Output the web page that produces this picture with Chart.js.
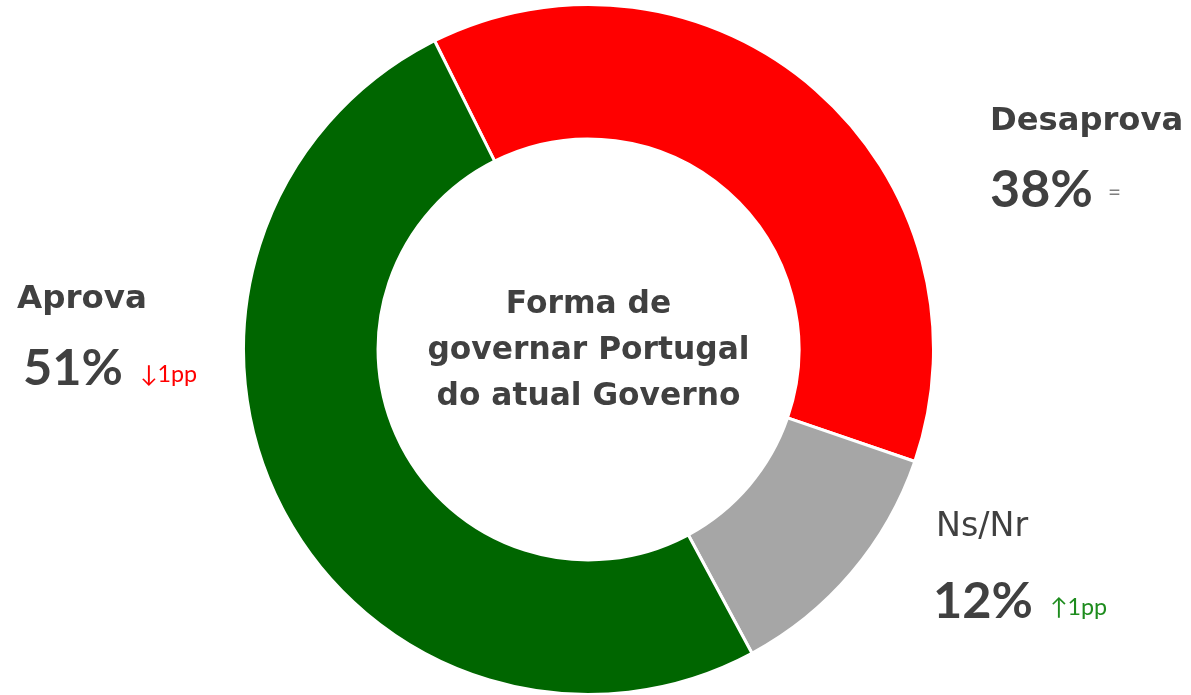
<!DOCTYPE html>
<html lang="pt">
<head>
    <meta charset="UTF-8">
    <title>Forma de governar Portugal do atual Governo</title>
    <script src="https://cdn.jsdelivr.net/npm/chart.js"></script>
    <style>
        * {
            margin: 0;
            padding: 0;
            box-sizing: border-box;
        }
        body {
            background-color: #ffffff;
            width: 1191px;
            height: 695px;
            overflow: hidden;
        }
        .chart-box {
            position: relative;
            width: 1191px;
            height: 695px;
        }
    </style>
</head>
<body>
    <div class="chart-box">
        <canvas id="governo-chart" width="1191" height="695"></canvas>
    </div>
    <script>
        // data
        var categories = ['Desaprova', 'Ns/Nr', 'Aprova'];
        var values = [38, 12, 51];
        var changes = ['=', '\u21911pp', '\u21931pp'];
        var sliceColors = ['#FF0000', '#A6A6A6', '#006600'];
        var changeColors = ['#7F7F7F', '#1E8C1E', '#FF0000'];
        var centerLines = ['Forma de', 'governar Portugal', 'do atual Governo'];

        var FONT = '"DejaVu Sans", Lato, sans-serif';
        var NUM_FONT = 'Lato, "DejaVu Sans", sans-serif';
        var TEXT = '#404040';

        // where each label block sits (name / percent / change) + widths to fit
        var labelPos = [
            { nameX: 990, nameY: 130, nameW: 193, nameWeight: 'bold', pctX: 990, pctY: 207, pctW: 103, chgX: 1108, chgY: 200, chgW: 13 },
            { nameX: 936, nameY: 536, nameW: 92, nameWeight: 'normal', pctX: 933, pctY: 618, pctW: 100, chgX: 1050, chgY: 615, chgW: 57 },
            { nameX: 17, nameY: 308, nameW: 130, nameWeight: 'bold', pctX: 23, pctY: 385, pctW: 100, chgX: 140, chgY: 382, chgW: 57 }
        ];

        // font size that makes text about w pixels wide
        function fitFont(ctx, text, weight, w, family) {
            family = family || FONT;
            ctx.font = weight + ' 100px ' + family;
            var size = 100 * w / ctx.measureText(text).width;
            return weight + ' ' + size.toFixed(1) + 'px ' + family;
        }

        var labelsPlugin = {
            id: 'labelsPlugin',
            afterDraw: function (chart) {
                var ctx = chart.ctx;
                var arc = chart.getDatasetMeta(0).data[0];
                ctx.save();
                ctx.textBaseline = 'alphabetic';
                ctx.textAlign = 'left';
                categories.forEach(function (name, i) {
                    var p = labelPos[i];
                    ctx.fillStyle = TEXT;
                    ctx.font = fitFont(ctx, name, p.nameWeight, p.nameW);
                    ctx.fillText(name, p.nameX, p.nameY);
                    var pct = values[i] + '%';
                    ctx.font = fitFont(ctx, pct, 'bold', p.pctW, NUM_FONT);
                    ctx.fillText(pct, p.pctX, p.pctY);
                    ctx.fillStyle = changeColors[i];
                    ctx.font = fitFont(ctx, changes[i], 'normal', p.chgW, NUM_FONT);
                    ctx.fillText(changes[i], p.chgX, p.chgY);
                });
                // title in the hole, one size for all lines
                ctx.textAlign = 'center';
                ctx.fillStyle = TEXT;
                ctx.font = fitFont(ctx, centerLines[1], 'bold', 322);
                centerLines.forEach(function (line, i) {
                    ctx.fillText(line, arc.x, 313 + i * 46);
                });
                ctx.restore();
            }
        };

        var ctx = document.getElementById('governo-chart').getContext('2d');
        var governoChart = new Chart(ctx, {
            type: 'doughnut',
            data: {
                labels: categories,
                datasets: [{
                    data: values,
                    backgroundColor: sliceColors,
                    borderColor: '#ffffff',
                    borderWidth: 3
                }]
            },
            options: {
                responsive: false,
                animation: false,
                rotation: -26.5,
                cutout: '61%',
                radius: 345,
                layout: {
                    padding: { left: 0, right: 14, top: 4, bottom: 0 }
                },
                plugins: {
                    legend: { display: false },
                    tooltip: { enabled: false }
                }
            },
            plugins: [labelsPlugin]
        });
    </script>
</body>
</html>
